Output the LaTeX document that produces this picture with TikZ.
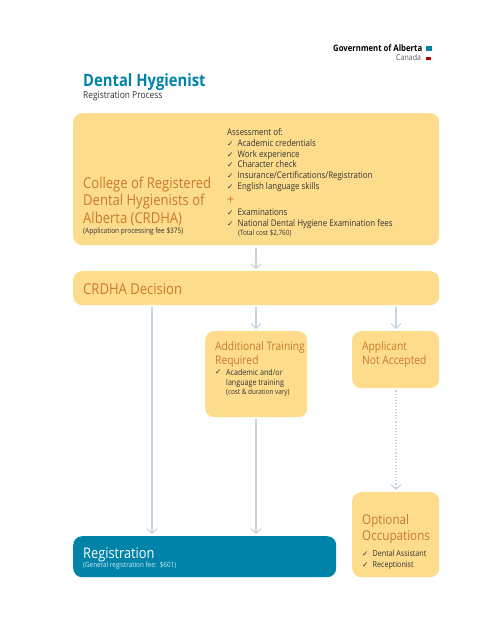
\documentclass[tikz,border=0pt]{standalone}
\usepackage{fontspec}
\setmainfont[FakeStretch=0.87]{Open Sans}
\newfontfamily\chk{DejaVu Sans}
\usetikzlibrary{arrows.meta}
\definecolor{boxy}{HTML}{FDDC8C}
\definecolor{teal2}{HTML}{0083A9}
\definecolor{orng}{HTML}{C97A2E}
\definecolor{txt}{HTML}{333333}
\definecolor{arr}{HTML}{C6D4DF}
\newcommand{\ck}{\makebox[10.5pt][l]{{\chk\fontsize{7.5}{7.5}\selectfont ✓}}}
\tikzset{
  x=1pt,y=-1pt,
  panel/.style={fill=boxy,rounded corners=9pt,inner sep=0pt,anchor=north west},
  bluepanel/.style={fill=teal2,rounded corners=9pt,inner sep=0pt,anchor=north west},
  label/.style={inner sep=0pt,anchor=north west,align=left},
  head/.style={label,text=orng,font=\fontsize{15}{17.5}\selectfont},
  headtight/.style={label,text=orng,font=\fontsize{13.4}{16}\selectfont},
  subhead/.style={label,text=orng,font=\fontsize{11.8}{14}\selectfont},
  body/.style={label,text=txt,font=\fontsize{9.1}{10.7}\selectfont},
  bodysmall/.style={label,text=txt,font=\fontsize{8.2}{10.3}\selectfont},
  small/.style={label,text=txt,font=\fontsize{7.3}{8}\selectfont},
  flow/.style={draw=arr,line width=1.3pt,-{Straight Barb[length=4.5pt,width=10pt,line width=1.1pt]}},
  dotflow/.style={draw=arr,line width=1.1pt,dotted,-{Straight Barb[length=4.5pt,width=10pt,line width=1.1pt]}}
}
\begin{document}
\begin{tikzpicture}
\useasboundingbox (0,0) rectangle (495,640);
% logo
\node[label,font=\fontsize{8.9}{9}\selectfont\bfseries,text=black] (gov) at (333,44) {Government of Alberta};
\node[label,font=\fontsize{8.1}{9}\selectfont,text=black!65] (can) at (396,54.5) {Canada};
\fill[teal2] (426,46) rectangle (432,51);
\fill[red!70!black] (426,57) rectangle (431,59.5);
% title
\node[label,font=\fontsize{17}{20}\selectfont\bfseries,text=teal2] (title) at (83,73) {Dental Hygienist};
\node[label,font=\fontsize{9.65}{11}\selectfont,text=txt] (sub) at (83,91) {Registration Process};
% panels
\node[panel,minimum width=366pt,minimum height=132pt] (college) at (73,113) {};
\node[panel,minimum width=366pt,minimum height=34pt] (decision) at (73,271) {};
\node[panel,minimum width=102pt,minimum height=86pt] (training) at (205,331) {};
\node[panel,minimum width=87pt,minimum height=57pt] (rejected) at (352,331) {};
\node[panel,minimum width=87pt,minimum height=85pt] (optional) at (352,492) {};
\node[bluepanel,minimum width=263pt,minimum height=41pt] (reg) at (73,536) {};
% texts
\node[head] (collegeT) at (83,176.5) {College of Registered\\Dental Hygienists of\\Alberta (CRDHA)};
\node[small,font=\fontsize{7.5}{8}\selectfont] (collegeF) at (83,228) {(Application processing fee \$375)};
\node[body] (assess) at (227,128.5) {Assessment of:\\\ck Academic credentials\\\ck Work experience\\\ck Character check\\\ck Insurance/Certifications/Registration\\\ck English language skills};
\node[label,text=orng,font=\fontsize{14}{14}\selectfont] (plus) at (227,196) {+};
\node[body] (exam) at (227,209) {\ck Examinations\\\ck National Dental Hygiene Examination fees};
\node[small] (cost) at (238,230) {(Total cost \$2,760)};
\node[head] (decT) at (83,283) {CRDHA Decision};
\node[subhead] (trainT) at (215,341.5) {Additional Training\\Required};
\node[bodysmall] (trainB) at (226,369) {Academic and/or\\language training};
\node[label,text=txt,font=\fontsize{7.5}{7.5}\selectfont] (trainK) at (215,369.5) {\ck};
\node[small] (trainC) at (226,389) {(cost \& duration vary)};
\node[subhead] (rejT) at (362,341.5) {Applicant\\Not Accepted};
\node[headtight] (optT) at (362,514) {Optional\\Occupations};
\node[body,font=\fontsize{8.2}{10.8}\selectfont] (optB) at (362,550) {\ck Dental Assistant\\\ck Receptionist};
\node[label,text=white,font=\fontsize{14.7}{18}\selectfont] (regT) at (83,548) {Registration};
\node[label,text=white!85!teal2,font=\fontsize{7.3}{8}\selectfont] (regF) at (83,562) {(General registration fee:\ \ \$601)};
% connectors
\coordinate (xa) at (152,0);
\coordinate (xb) at (256,0);
\coordinate (xc) at (396,0);
\draw[flow,shorten <=3pt,shorten >=2pt] (college.south -| xb) -- (decision.north -| xb);
\draw[flow,shorten <=2pt,shorten >=2pt] (decision.south -| xa) -- (reg.north -| xa);
\draw[flow,shorten <=2pt,shorten >=2pt] (decision.south -| xb) -- (training.north -| xb);
\draw[flow,shorten <=2pt,shorten >=2pt] (decision.south -| xc) -- (rejected.north -| xc);
\draw[flow,shorten <=2pt,shorten >=2pt] (training.south -| xb) -- (reg.north -| xb);
\draw[dotflow,shorten <=2pt,shorten >=2pt] (rejected.south -| xc) -- (optional.north -| xc);
\end{tikzpicture}
\end{document}
